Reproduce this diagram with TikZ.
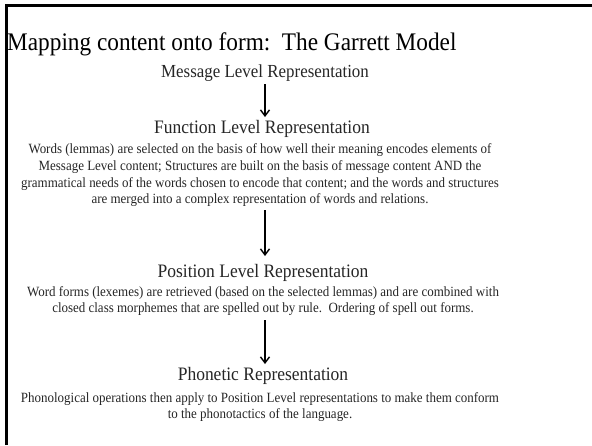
\documentclass[tikz,border=0pt]{standalone}
\usepackage{fontspec}
\setmainfont{Liberation Serif}[FakeStretch=0.92]
\usetikzlibrary{arrows.meta}
\begin{document}
\begin{tikzpicture}[x=1pt,y=1pt,
  heading/.style={anchor=base,inner sep=0pt,font=\fontsize{19}{22}\selectfont,text=black!85},
  desc/.style={anchor=north,inner sep=0pt,align=center,font=\fontsize{14.1}{16.7}\selectfont,text=black!85},
  flow/.style={line width=1.4pt,-{Straight Barb[length=6pt,width=9pt,line width=1.4pt]}}]
  \useasboundingbox (0,0) rectangle (592,-445);
  \fill[white] (0,0) rectangle (592,-445);
  % slide frame, open on the right and bottom
  \draw[line width=3pt] (6.5,-445) -- (6.5,-5.5) -- (592,-5.5);
  % title
  \node[anchor=base west,inner sep=0pt,font=\fontsize{25.3}{28}\selectfont] (title) at (7,-50)
    {Mapping content onto form:\ \ The Garrett Model};
  % levels
  \node[heading,font=\fontsize{18.4}{20}\selectfont] (msg) at (265,-77) {Message Level Representation};
  \node[heading] (func) at (262,-133) {Function Level Representation};
  \node[desc] (funcdesc) at (260,-143.5)
    {Words (lemmas) are selected on the basis of how well their meaning encodes elements of\\
     Message Level content; Structures are built on the basis of message content AND the\\
     grammatical needs of the words chosen to encode that content; and the words and structures\\
     are merged into a complex representation of words and relations.};
  \node[heading] (pos) at (263,-277) {Position Level Representation};
  \node[desc,font=\fontsize{14.1}{16}\selectfont] (posdesc) at (263,-286)
    {Word forms (lexemes) are retrieved (based on the selected lemmas) and are combined with\\
     closed class morphemes that are spelled out by rule.\ \ Ordering of spell out forms.};
  \node[heading] (phon) at (263,-380) {Phonetic Representation};
  \node[desc,font=\fontsize{14.1}{15.5}\selectfont] (phondesc) at (260,-392.5)
    {Phonological operations then apply to Position Level representations to make them conform\\
     to the phonotactics of the language.};
  % arrows between levels
  \coordinate (a1) at (265,-84);
  \coordinate (b1) at (265,-117);
  \coordinate (a2) at (265,-210);
  \coordinate (b2) at (265,-256);
  \coordinate (a3) at (265,-320);
  \coordinate (b3) at (265,-364);
  \draw[flow] (a1) -- (b1);
  \draw[flow] (a2) -- (b2);
  \draw[flow] (a3) -- (b3);
\end{tikzpicture}
\end{document}
